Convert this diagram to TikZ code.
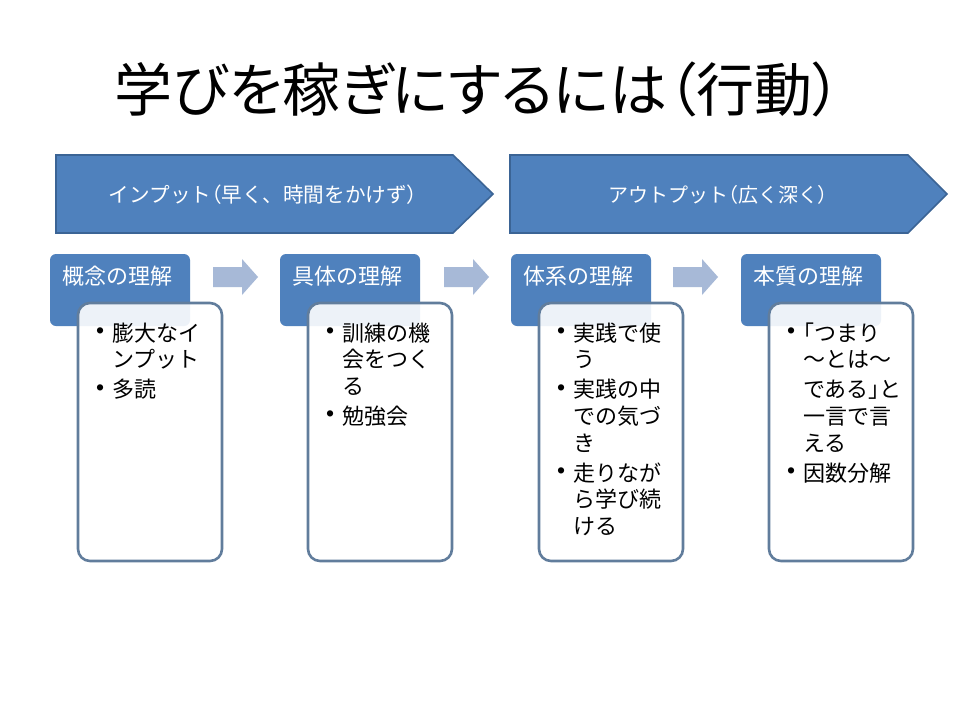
\documentclass[tikz,border=0pt]{standalone}
\usepackage{fontspec}
\setmainfont{Noto Sans CJK JP}
\newfontfamily\jp{Noto Sans CJK JP}
\newfontfamily\jpp[RawFeature=+palt]{Noto Sans CJK JP}
\newfontfamily\bulf{Liberation Sans}
\definecolor{acc}{HTML}{4F81BD}
\definecolor{accdark}{HTML}{3B6495}
\definecolor{arrowc}{HTML}{A7B9D7}
\definecolor{boxline}{HTML}{617D9C}
\newcommand\itm[1]{\hbox{\llap{\raisebox{2.5pt}{\bulf\fontsize{23}{23}\selectfont •}\hspace{8pt}}#1}}
\newcommand\cnt[1]{\hbox{#1}}
\newcommand\gapp{\vskip3.3pt}
\newcommand\pp[1]{{\jpp #1}}
\tikzset{
  chev/.style={fill=acc, draw=accdark, line width=1.6pt, line join=miter},
  chevtext/.style={text=white, font={\jp\fontsize{20}{24}\selectfont}, inner sep=0pt, anchor=center},
  hdr/.style={fill=acc, rounded corners=6pt},
  hdrtext/.style={text=white, font={\jp\fontsize{22}{26}\selectfont}, inner sep=0pt, anchor=base west},
  cbox/.style={fill=white, fill opacity=0.9, draw=boxline, draw opacity=1, line width=2.6pt, rounded corners=12pt},
  ctext/.style={text=black, font={\jp\fontsize{22}{26.7}\selectfont}, inner sep=0pt, anchor=base west},
  flowarrow/.style={fill=arrowc},
}
\begin{document}
\begin{tikzpicture}[x=1pt,y=-1pt]
\useasboundingbox (0,0) rectangle (960,720);
\fill[white] (0,0) rectangle (960,720);

% title
\node[inner sep=0pt, anchor=center, font={\jpp\fontsize{58}{64}\selectfont}] (title) at (478,89) {学びを稼ぎにするには（行動）};

% chevrons
\draw[chev] (56,155) -- (453,155) -- (493,194) -- (453,233) -- (56,233) -- cycle;
\draw[chev] (510,155) -- (908,155) -- (947,194) -- (908,233) -- (510,233) -- cycle;
\node[chevtext, font={\jp\fontsize{20.6}{24}\selectfont}] (inp) at (263,195) {インプット\pp{（}早く、時間をかけず\pp{）}};
\node[chevtext] (outp) at (718,195) {アウトプット\pp{（}広く深く\pp{）}};

% groups
\foreach \dx/\name/\hd in {0/a/概念の理解, 230/b/具体の理解, 461/c/体系の理解, 691/d/本質の理解} {
  \begin{scope}[xshift=\dx]
    \fill[hdr] (50,254) rectangle (190,326);
    \node[hdrtext] (h\name) at (62,284) {\hd};
    \draw[cbox] (78,303) rectangle (222,561);
  \end{scope}
}

% arrows
\foreach \dx/\name in {0/1, 231/2, 460/3} {
  \begin{scope}[xshift=\dx]
    \fill[flowarrow] (213,267) -- (242,267) -- (242,259) -- (258,277) -- (242,295) -- (242,287) -- (213,287) -- cycle;
  \end{scope}
}

% box texts
\node[ctext] (ta) at (112,341) {\vtop{\itm{膨大なイ}\cnt{ンプット}\gapp\itm{多読}}};
\node[ctext] (tb) at (342,341) {\vtop{\itm{訓練の機}\cnt{会をつく}\cnt{る}\gapp\itm{勉強会}}};
\node[ctext] (tc) at (573,341) {\vtop{\itm{実践で使}\cnt{う}\gapp\itm{実践の中}\cnt{での気づ}\cnt{き}\gapp\itm{走りなが}\cnt{ら学び続}\cnt{ける}}};
\node[ctext] (td) at (803,341) {\vtop{\itm{\pp{「}つまり}\cnt{～とは～}\gapp\cnt{である\pp{」}と}\cnt{一言で言}\cnt{える}\gapp\itm{因数分解}}};
\end{tikzpicture}
\end{document}
